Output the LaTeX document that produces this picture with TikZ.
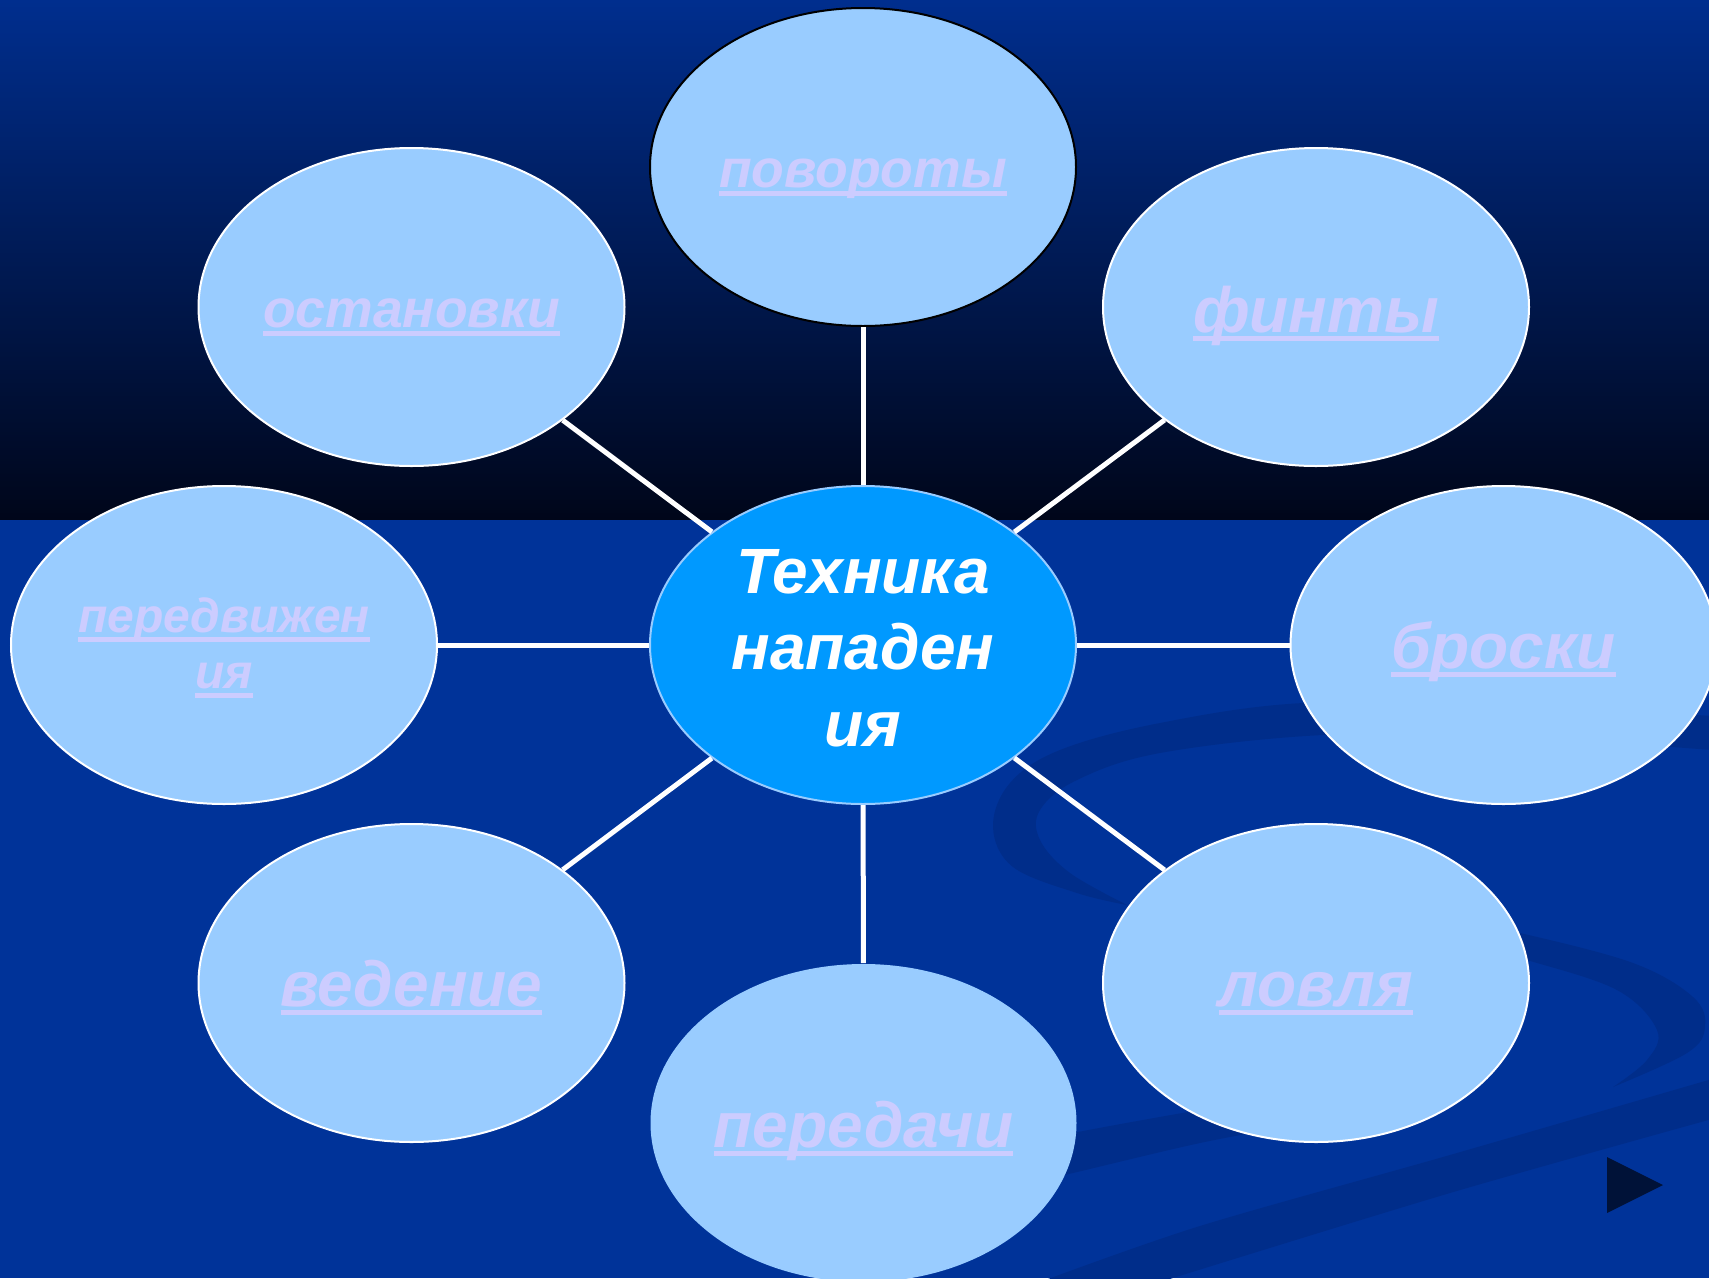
\documentclass[tikz,border=0pt]{standalone}
\usepackage{fontspec}
\setmainfont{Liberation Sans}
\newsavebox\ulbox
\newcommand\ulx[1]{\sbox\ulbox{#1}\rlap{\rule[-9pt]{\wd\ulbox}{5pt}}\usebox\ulbox}
\usetikzlibrary{shapes.geometric}
\definecolor{bgblue}{HTML}{003399}
\definecolor{topblue}{HTML}{002E8E}
\definecolor{topdark}{HTML}{00061A}
\definecolor{swirl}{HTML}{002D8A}
\definecolor{bubfill}{HTML}{99CCFF}
\definecolor{hubfill}{HTML}{0099FF}
\definecolor{lav}{HTML}{CCCCFF}
\definecolor{tri}{HTML}{001238}
\begin{document}
\begin{tikzpicture}[x=1pt,y=-1pt,
  bub/.style={ellipse, fill=bubfill, draw=white, line width=2pt, inner sep=0pt,
    minimum width=426pt, minimum height=318pt},
  hub/.style={bub, fill=hubfill, draw=bubfill},
  lbl/.style={text=lav, inner sep=0pt, align=center,
    font=\bfseries\itshape\fontsize{#1}{56}\selectfont},
  hubtext/.style={text=white, inner sep=0pt, align=center,
    font=\bfseries\itshape\fontsize{64}{76.5}\selectfont},
  conn/.style={draw=white, line width=5pt},
  swirlband/.style={fill=swirl}]
\useasboundingbox (0,0) rectangle (1709,1278);
\clip (0,0) rectangle (1709,1278);
% background
\fill[bgblue] (0,0) rectangle (1709,1278);
\shade[top color=topblue, bottom color=topdark] (0,0) rectangle (1709,519);
% swirls
\fill[swirlband] plot[smooth, tension=0.6] coordinates {(1712,716) (1500,704) (1303,703) (1160,723) (1060,750) (1010,783) (993,827) (1013,867) (1077,893) (1127,905)}
  -- plot[smooth, tension=0.6] coordinates {(1127,905) (1070,873) (1040,840) (1040,810) (1077,780) (1160,753) (1323,735) (1500,736) (1712,750)} -- cycle;
\fill[swirlband] plot[smooth, tension=0.6] coordinates {(1470,925) (1520,933) (1633,963) (1693,997) (1705,1027) (1687,1053) (1613,1087)}
  -- plot[smooth, tension=0.6] coordinates {(1613,1087) (1647,1060) (1657,1030) (1617,990) (1527,960) (1470,945)} -- cycle;
\fill[swirlband] plot[smooth, tension=0.5] coordinates {(1000,1150) (1073,1133) (1200,1110) (1300,1095) (1420,1085)}
  -- plot[smooth, tension=0.5] coordinates {(1420,1110) (1300,1125) (1200,1143) (1073,1173) (1000,1190)} -- cycle;
\fill[swirlband] plot[smooth, tension=0.5] coordinates {(1040,1282) (1200,1226) (1450,1155) (1712,1079)}
  -- plot[smooth, tension=0.5] coordinates {(1712,1119) (1450,1193) (1160,1282)} -- cycle;
% play triangle
\fill[tri] (1607,1157) -- (1607,1213) -- (1663,1185) -- cycle;
% bubbles
\node[hub] (hub) at (863,645) {};
\node[bub, draw=black] (pov) at (863,167) {};
\node[bub] (ost) at (411.5,307) {};
\node[bub] (fin) at (1316,307) {};
\node[bub] (per) at (224,645) {};
\node[bub] (bro) at (1503.5,645) {};
\node[bub] (ved) at (411.5,983) {};
\node[bub] (lov) at (1316,983) {};
\node[bub, draw=none] (pd) at (863.5,1123) {};
% connectors
\draw[conn] (hub) -- (pov);
\draw[conn] (hub) -- (ost);
\draw[conn] (hub) -- (fin);
\draw[conn] (hub) -- (per);
\draw[conn] (hub) -- (bro);
\draw[conn] (hub) -- (ved);
\draw[conn] (hub) -- (lov);
\draw[conn] (hub) -- (pd);
% texts
\node[hubtext] (hub-t) at ([yshift=-3pt]hub.center) {Техника\\нападен\\ия};
\node[lbl=53.5, anchor=base] (pov-t) at ([yshift=-20pt]pov.center) {\ulx{повороты}};
\node[lbl=53.5, anchor=base] (ost-t) at ([yshift=-20pt]ost.center) {\ulx{остановки}};
\node[lbl=64, anchor=base] (fin-t) at ([yshift=-25pt]fin.center) {\ulx{финты}};
\node[lbl=48] (per-t) at ([yshift=-3pt]per.center) {\ulx{передвижен}\\\ulx{ия}};
\node[lbl=64, anchor=base] (bro-t) at ([yshift=-23pt]bro.center) {\ulx{броски}};
\node[lbl=64, anchor=base] (ved-t) at ([yshift=-23pt]ved.center) {\ulx{ведение}};
\node[lbl=64, anchor=base] (lov-t) at ([yshift=-23pt]lov.center) {\ulx{ловля}};
\node[lbl=64, anchor=base] (pd-t) at ([yshift=-24pt]pd.center) {\ulx{передачи}};
\end{tikzpicture}
\end{document}
